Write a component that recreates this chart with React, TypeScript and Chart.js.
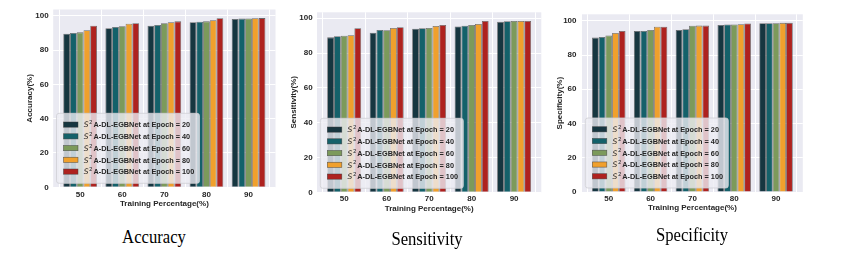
import React, { useEffect, useRef } from 'react';
import { Chart, registerables } from 'chart.js';

Chart.register(...registerables);

// ---------- data ----------
const CATEGORIES = ['50', '60', '70', '80', '90'];
const EPOCHS = ['20', '40', '60', '80', '100'];

// one row per epoch (20, 40, 60, 80, 100), one value per training percentage
const ACCURACY = [
  [89.5, 92.7, 94.2, 96.2, 98.1],
  [89.9, 93.4, 94.6, 96.5, 98.3],
  [90.3, 93.8, 95.6, 96.7, 98.4],
  [91.5, 95.3, 96.2, 97.3, 98.5],
  [94.2, 95.6, 96.7, 98.5, 98.6],
];
const SENSITIVITY = [
  [89.0, 91.7, 94.0, 95.2, 97.9],
  [89.6, 93.3, 94.2, 95.7, 98.3],
  [90.0, 93.1, 94.4, 96.1, 98.4],
  [90.2, 94.4, 95.6, 96.7, 98.4],
  [94.2, 94.8, 96.1, 98.4, 98.4],
];
const SPECIFICITY = [
  [90.2, 94.1, 94.7, 97.6, 98.6],
  [90.6, 94.1, 95.1, 97.8, 98.6],
  [91.4, 94.7, 97.1, 97.8, 98.6],
  [92.9, 96.5, 97.2, 98.0, 98.8],
  [94.1, 96.5, 97.2, 98.4, 98.8],
];
const Y_TICKS = [0, 20, 40, 60, 80, 100];
const Y_MAX = [103.6, 103.4, 103.8];
const X_MIN = -0.64;
const X_MAX = 4.64;

// ---------- style ----------
const COLORS = ['#163640', '#14616a', '#7c9a5b', '#f0a02c', '#ae221f'];
const EDGE = 'rgba(60,60,60,0.75)';
const TEXT = '#262626';
const SANS = '"Liberation Sans", Arial, sans-serif';

const PANELS = [
  {
    data: ACCURACY, yMax: Y_MAX[0], yTitle: 'Accuracy(%)', caption: 'Accuracy',
    left: 0, width: 285, height: 212,
    area: { l: 53.2, r: 275.5, t: 9.5, b: 187.3 },
    yTitleX: 29.3, xTitleY: 204, xTickY: 195, yTickPad: 4.5,
    capX: 154, capY: 236.5,
  },
  {
    data: SENSITIVITY, yMax: Y_MAX[1], yTitle: 'Sensitivity(%)', caption: 'Sensitivity',
    left: 282, width: 268, height: 216,
    area: { l: 317, r: 541.3, t: 12.3, b: 192.3 },
    yTitleX: 294, xTitleY: 208.3, xTickY: 199, yTickPad: 4.3,
    capX: 427.3, capY: 238.8,
  },
  {
    data: SPECIFICITY, yMax: Y_MAX[2], yTitle: 'Specificity(%)', caption: 'Specificity',
    left: 548, width: 264, height: 215,
    area: { l: 582, r: 802.8, t: 14.3, b: 192 },
    yTitleX: 559.3, xTitleY: 207.3, xTickY: 198.3, yTickPad: 5.5,
    capX: 691.7, capY: 234.8,
  },
];

const FONT_PX = 8;
const HALF_LINE = (FONT_PX * 1.2) / 2;

const bgPlugin = {
  id: 'plotBg',
  beforeDraw(chart: any) {
    const { ctx, chartArea } = chart;
    ctx.save();
    ctx.fillStyle = '#EAEAF2';
    ctx.fillRect(chartArea.left, chartArea.top, chartArea.right - chartArea.left, chartArea.bottom - chartArea.top);
    ctx.restore();
  },
};

const legendPlugin = {
  id: 'boxLegend',
  afterDatasetsDraw(chart: any) {
    const { ctx, chartArea } = chart;
    const offX = 3.3, offY = 4, w = 143, h = 70;
    const x0 = chartArea.left + offX;
    const y1 = chartArea.bottom - offY;
    const y0 = y1 - h;
    ctx.save();
    const r = 2.5;
    ctx.beginPath();
    ctx.moveTo(x0 + r, y0);
    ctx.lineTo(x0 + w - r, y0);
    ctx.quadraticCurveTo(x0 + w, y0, x0 + w, y0 + r);
    ctx.lineTo(x0 + w, y0 + h - r);
    ctx.quadraticCurveTo(x0 + w, y0 + h, x0 + w - r, y0 + h);
    ctx.lineTo(x0 + r, y0 + h);
    ctx.quadraticCurveTo(x0, y0 + h, x0, y0 + h - r);
    ctx.lineTo(x0, y0 + r);
    ctx.quadraticCurveTo(x0, y0, x0 + r, y0);
    ctx.closePath();
    ctx.fillStyle = 'rgba(236,236,243,0.8)';
    ctx.fill();
    ctx.strokeStyle = '#cfcfd4';
    ctx.lineWidth = 0.8;
    ctx.stroke();

    chart.data.datasets.forEach((ds: any, i: number) => {
      const cy = y0 + 11.3 + i * 11.75;
      const px = x0 + 7, pw = 14.5, ph = 5.2;
      ctx.fillStyle = ds.backgroundColor;
      ctx.fillRect(px, cy - ph / 2, pw, ph);
      ctx.strokeStyle = EDGE;
      ctx.lineWidth = 0.6;
      ctx.strokeRect(px, cy - ph / 2, pw, ph);

      const label: string = ds.label;
      let tx = x0 + 27.3;
      const base = cy + 2.7;
      ctx.fillStyle = TEXT;
      ctx.textBaseline = 'alphabetic';
      ctx.textAlign = 'left';
      ctx.font = 'italic 7.6px "DejaVu Sans"';
      ctx.fillText('S', tx, base);
      tx += ctx.measureText('S').width + 0.5;
      ctx.font = '5.4px "DejaVu Sans"';
      ctx.fillText('2', tx, base - 3.2);
      tx += ctx.measureText('2').width + 0.9;
      ctx.font = `bold 7.3px ${SANS}`;
      ctx.fillText(label.slice(2), tx, base);
    });
    ctx.restore();
  },
};

function Panel({ p }: { p: any }) {
  const ref = useRef<HTMLCanvasElement | null>(null);
  useEffect(() => {
    if (!ref.current) return;
    const a = p.area;
    const axisLeft = p.yTitleX - HALF_LINE;
    const axisBottom = p.xTitleY + HALF_LINE;
    const padLeft = axisLeft - p.left;
    const padRight = p.left + p.width - a.r;
    const padTop = a.t;
    const padBottom = p.height - axisBottom;
    const yAxisW = a.l - axisLeft;
    const xAxisH = axisBottom - a.b;
    const xTickPad = p.xTickY - a.b - HALF_LINE;

    const datasets = EPOCHS.map((e, i) => ({
      label: `S²A-DL-EGBNet at Epoch = ${e}`,
      data: p.data[i].map((v: number, j: number) => ({ x: j, y: v })),
      backgroundColor: COLORS[i],
      borderColor: EDGE,
      borderWidth: 0.8,
      categoryPercentage: 0.8,
      barPercentage: 1.0,
    }));

    const chart = new Chart(ref.current, {
      type: 'bar',
      data: { datasets },
      options: {
        animation: false,
        responsive: true,
        maintainAspectRatio: false,
        layout: { padding: { left: padLeft, right: padRight, top: padTop, bottom: padBottom } },
        plugins: { legend: { display: false }, tooltip: { enabled: false } },
        scales: {
          x: {
            type: 'linear',
            min: X_MIN,
            max: X_MAX,
            offset: false,
            afterBuildTicks: (axis: any) => {
              axis.ticks = CATEGORIES.map((_, j) => ({ value: j }));
            },
            afterFit: (axis: any) => { axis.height = xAxisH; },
            grid: { color: '#ffffff', lineWidth: 1, drawTicks: false },
            border: { display: false },
            ticks: {
              padding: xTickPad,
              color: TEXT,
              font: { family: SANS, size: FONT_PX, weight: 'bold' },
              callback: (v: any) => CATEGORIES[Math.round(Number(v))] ?? '',
              maxRotation: 0,
              autoSkip: false,
            },
            title: {
              display: true,
              text: 'Training Percentage(%)',
              color: TEXT,
              padding: 0,
              font: { family: SANS, size: FONT_PX, weight: 'bold', lineHeight: 1.2 },
            },
          },
          y: {
            type: 'linear',
            min: 0,
            max: p.yMax,
            afterBuildTicks: (axis: any) => {
              axis.ticks = Y_TICKS.map((v) => ({ value: v }));
            },
            afterFit: (axis: any) => { axis.width = yAxisW; },
            grid: { color: '#ffffff', lineWidth: 1, drawTicks: false },
            border: { display: false },
            ticks: {
              padding: p.yTickPad,
              color: TEXT,
              font: { family: SANS, size: FONT_PX, weight: 'bold' },
            },
            title: {
              display: true,
              text: p.yTitle,
              color: TEXT,
              padding: 0,
              font: { family: SANS, size: FONT_PX, weight: 'bold', lineHeight: 1.2 },
            },
          },
        },
      } as any,
      plugins: [bgPlugin, legendPlugin],
    });
    return () => chart.destroy();
  }, [p]);

  return (
    <div style={{ position: 'absolute', left: p.left, top: 0, width: p.width, height: p.height }}>
      <canvas ref={ref} />
    </div>
  );
}

export default function App() {
  useEffect(() => {
    document.body.style.margin = '0';
    document.body.style.background = '#ffffff';
  }, []);
  return (
    <div style={{ position: 'relative', width: 847, height: 262, background: '#ffffff', overflow: 'hidden' }}>
      {PANELS.map((p, i) => (
        <Panel key={i} p={p} />
      ))}
      {PANELS.map((p, i) => (
        <div
          key={'c' + i}
          style={{
            position: 'absolute',
            left: p.capX,
            top: p.capY,
            transform: 'translate(-50%, -50%) scaleX(0.9)',
            fontFamily: '"Liberation Serif", "Times New Roman", serif',
            fontSize: 18.5,
            lineHeight: 1,
            whiteSpace: 'nowrap',
            color: '#000',
          }}
        >
          {p.caption}
        </div>
      ))}
    </div>
  );
}
